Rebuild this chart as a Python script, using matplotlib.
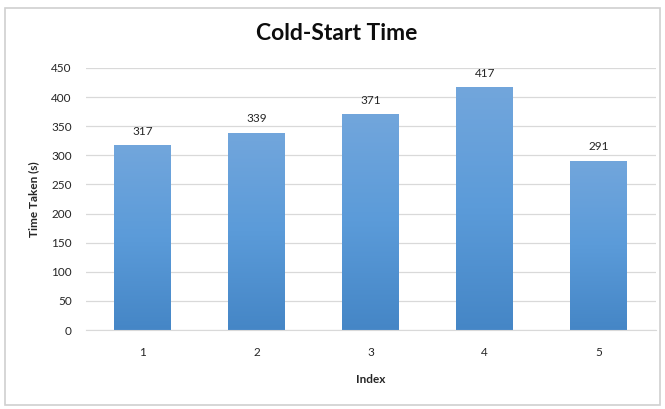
import numpy as np
import matplotlib.pyplot as plt
from matplotlib.patches import Rectangle
from matplotlib.colors import LinearSegmentedColormap

plt.rcParams['font.family'] = ['Lato', 'DejaVu Sans']

index = [1, 2, 3, 4, 5]
times = [317, 339, 371, 417, 291]
title = 'Cold-Start Time'
ylabel = 'Time Taken (s)'
xlabel = 'Index'

fig = plt.figure(figsize=(6.65, 4.09), dpi=100)
fig.patches.append(Rectangle((0.008, 0.01), 0.984, 0.97, transform=fig.transFigure,
                             fill=False, edgecolor='#d0d0d0', linewidth=1.2))
ax = fig.add_axes([0.129, 0.193, 0.857, 0.641])

x = np.arange(len(index))
bars = ax.bar(x, times, width=0.5, color='none', zorder=2)

# vertical gradient fill, lighter at the top like the Excel default
cmap = LinearSegmentedColormap.from_list('bar', ['#4586c6', '#5b9bd9', '#72a6dc'])
grad = np.linspace(0, 1, 256).reshape(-1, 1)
for b in bars:
    x0, y0 = b.get_x(), b.get_y()
    w, h = b.get_width(), b.get_height()
    im = ax.imshow(grad, cmap=cmap, origin='lower', aspect='auto',
                   extent=[x0, x0 + w, y0, y0 + h], zorder=2)
    im.set_clip_path(b)

for xi, v in zip(x, times):
    ax.annotate(str(v), (xi, v), xytext=(0, 6), textcoords='offset points',
                ha='center', va='bottom', fontsize=8.5, color='#262626')

ax.set_xlim(-0.5, len(index) - 0.5)
ax.set_ylim(0, 450)
ax.set_yticks(np.arange(0, 451, 50))
ax.set_xticks(x)
ax.set_xticklabels([str(i) for i in index])
ax.yaxis.grid(True, color='#d9d9d9', linewidth=0.9, zorder=0)
ax.set_axisbelow(True)
for s in ['top', 'right', 'left']:
    ax.spines[s].set_visible(False)
ax.spines['bottom'].set_color('#d9d9d9')
ax.tick_params(length=0, labelsize=8.5, labelcolor='#262626')
ax.tick_params(axis='x', pad=12)
ax.tick_params(axis='y', pad=10)

ax.set_ylabel(ylabel, fontsize=8.5, fontweight='bold', color='#262626', labelpad=9)
ax.set_xlabel(xlabel, fontsize=8.5, fontweight='bold', color='#262626', labelpad=12)
fig.text(0.507, 0.918, title, ha='center', va='center', fontsize=16.5,
         fontweight='bold', color='#0d0d0d')

fig.savefig('out.png', dpi=100)
